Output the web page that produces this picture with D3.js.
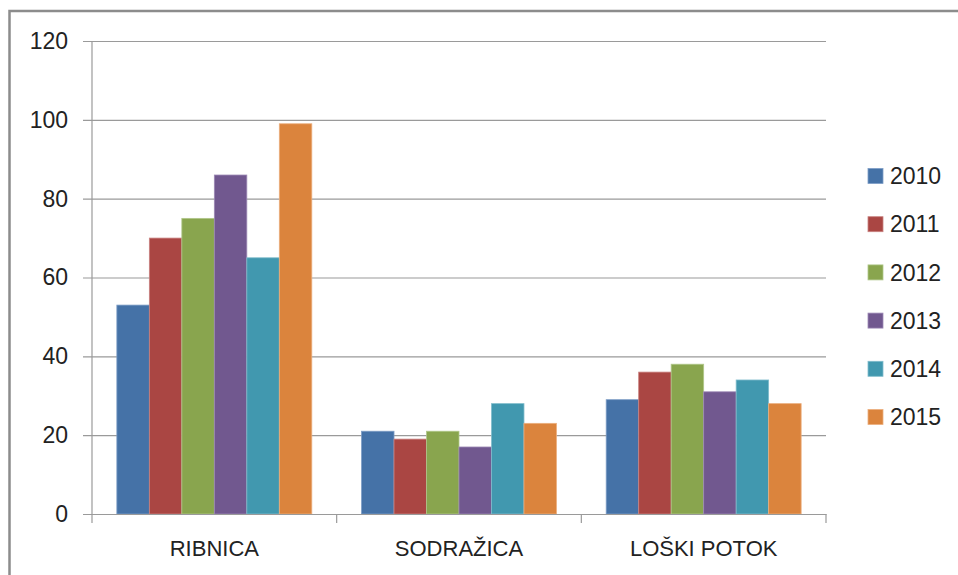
<!DOCTYPE html>
<html>
<head>
<meta charset="utf-8">
<script src="https://cdn.jsdelivr.net/npm/d3@7"></script>
<style>
  body { margin: 0; background: #fff; }
  svg text { font-family: "Liberation Sans", Arial, sans-serif; fill: #222; }
</style>
</head>
<body>
<div id="chart"></div>
<script>
const categories = ['RIBNICA', 'SODRAŽICA', 'LOŠKI POTOK']
const years = ['2010', '2011', '2012', '2013', '2014', '2015']
const values = {
  '2010': [53, 21, 29],
  '2011': [70, 19, 36],
  '2012': [75, 21, 38],
  '2013': [86, 17, 31],
  '2014': [65, 28, 34],
  '2015': [99, 23, 28]
}
const yTicks = [0, 20, 40, 60, 80, 100, 120]
const colours = ['#4572A7', '#AA4643', '#89A54E', '#71588F', '#4198AF', '#DB843D']
const strokes = ['#7d9dc6', '#c98280', '#b0c78a', '#9d89b5', '#80bccc', '#ebae7e']

window.onload = function() {
  let w = 958,
    h = 575,
    left = 92, right = 826, top = 41, bottom = 514;

  const svg = d3.select('#chart').append('svg')
      .attr('width', w)
      .attr('height', h)

  // outer chart frame (cropped by the window on right and bottom)
  svg.append('path')
      .attr('d', 'M9.5,' + (h + 5) + 'V11H' + (w + 5))
      .attr('fill', 'none')
      .attr('stroke', '#8c8c8c')
      .attr('stroke-width', 2.5)

  let x0 = d3.scaleBand()
      .domain(categories)
      .range([left, right])
      .padding(0)

  let x1 = d3.scaleBand()
      .domain(years)
      .range([0, x0.bandwidth()])
      .paddingInner(0)
      .paddingOuter(0.765)

  let y = d3.scaleLinear()
      .domain([0, 120])
      .range([bottom, top])

  // gridlines + y labels
  svg.append('g')
      .attr('class', 'y axis')
      .attr('transform', `translate(${left},0)`)
      .call(d3.axisLeft(y).tickValues(yTicks).tickSize(-(right - left)).tickPadding(24))
      .call(g => g.select('.domain').remove())
      .call(g => g.selectAll('.tick line')
          .attr('x1', -9)
          .attr('stroke', '#9a9a9a')
          .attr('stroke-width', 1.2))
      .call(g => g.selectAll('.tick text')
          .attr('font-size', 23)
          .attr('fill', '#222'))

  // y axis line
  svg.append('line')
      .attr('x1', left).attr('x2', left)
      .attr('y1', top).attr('y2', bottom)
      .attr('stroke', '#9a9a9a')
      .attr('stroke-width', 1.2)

  // bars
  const groups = svg.append('g').selectAll('g')
      .data(years)
      .enter().append('g')
        .attr('fill', (d, i) => colours[i])
        .attr('stroke', (d, i) => strokes[i])

  groups.selectAll('rect')
      .data(yr => values[yr].map((v, j) => ({ year: yr, cat: categories[j], value: v })))
      .enter().append('rect')
        .attr('x', d => x0(d.cat) + x1(d.year))
        .attr('width', x1.bandwidth())
        .attr('y', d => y(d.value))
        .attr('height', d => bottom - y(d.value))
        .attr('stroke-width', 0.8)

  // x axis
  svg.append('g')
      .attr('class', 'x axis')
      .attr('transform', `translate(0,${bottom})`)
      .call(d3.axisBottom(x0).tickSize(0).tickPadding(26))
      .call(g => g.select('.domain').attr('stroke', '#9a9a9a').attr('stroke-width', 1.2))
      .call(g => g.selectAll('.tick text').attr('font-size', 22).attr('fill', '#222'))

  // category separator ticks
  let edges = categories.map(c => x0(c)).concat([right])
  svg.append('g').selectAll('line')
      .data(edges)
      .enter().append('line')
        .attr('x1', d => d).attr('x2', d => d)
        .attr('y1', bottom).attr('y2', bottom + 9)
        .attr('stroke', '#9a9a9a')
        .attr('stroke-width', 1.2)

  // legend
  let ly = d3.scalePoint()
      .domain(years)
      .range([176, 417])

  const legend = svg.append('g').selectAll('g')
      .data(years)
      .enter().append('g')
        .attr('transform', d => `translate(868,${ly(d)})`)

  legend.append('rect')
      .attr('x', 0).attr('y', -7.5)
      .attr('width', 15).attr('height', 15)
      .attr('fill', (d, i) => colours[i])
      .attr('stroke', (d, i) => strokes[i])
      .attr('stroke-width', 0.8)

  legend.append('text')
      .attr('x', 22)
      .attr('dy', '0.36em')
      .attr('font-size', 23)
      .text(d => d)
}
</script>
</body>
</html>
